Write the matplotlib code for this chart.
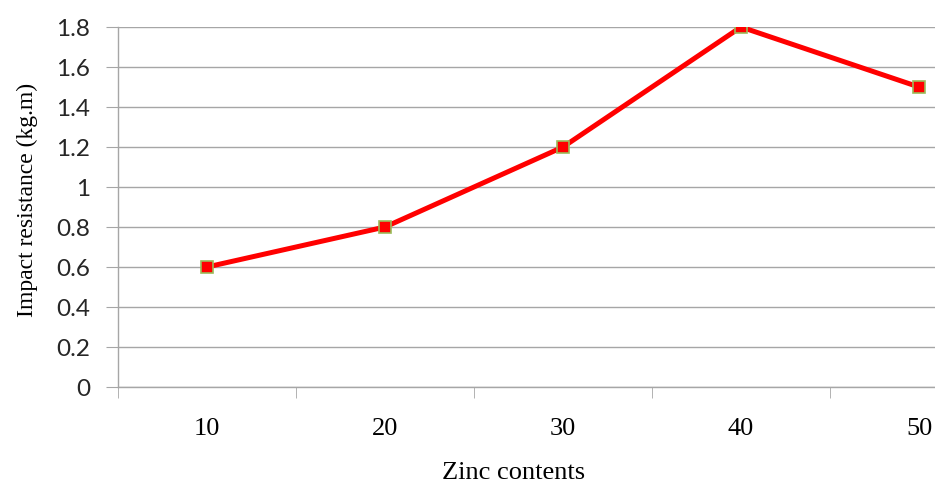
import numpy as np
import matplotlib.pyplot as plt

zinc = ["10", "20", "30", "40", "50"]
impact = [0.6, 0.8, 1.2, 1.8, 1.5]
yticks = [0, 0.2, 0.4, 0.6, 0.8, 1, 1.2, 1.4, 1.6, 1.8]

fig = plt.figure(figsize=(9.35, 4.86), dpi=100)
# plot area runs past the right edge of the figure
ax = fig.add_axes([118 / 935, 1 - 387 / 486, 890 / 935, 360 / 486])

x = np.arange(len(zinc))
ax.plot(x, impact, color="#ff0000", lw=3.6, marker="s", ms=8,
        mfc="#ff0000", mec="#9bbb59", mew=1.2, zorder=3)

ax.set_xlim(-0.5, len(zinc) - 0.5)
ax.set_ylim(0, 1.8)

grid_c = "#a6a6a6"
ax.set_yticks(yticks)
ax.set_yticklabels(["0", "0.2", "0.4", "0.6", "0.8", "1", "1.2", "1.4", "1.6", "1.8"],
                   family="Lato", fontsize=17.5, color="#262626")
ax.yaxis.grid(True, color=grid_c, lw=1)
ax.set_axisbelow(True)

ax.set_xticks(x)
ax.set_xticklabels(zinc, family="Liberation Serif", fontsize=19)
ax.set_xticks(np.arange(-0.5, len(zinc)), minor=True)
ax.tick_params(axis="x", which="major", length=0, pad=22)
ax.tick_params(axis="x", which="minor", length=8, color=grid_c, direction="out")
ax.tick_params(axis="y", length=9, color=grid_c, direction="out", pad=11)

for s in ["top", "right"]:
    ax.spines[s].set_visible(False)
for s in ["left", "bottom"]:
    ax.spines[s].set_color(grid_c)
    ax.spines[s].set_linewidth(1)

ax.set_ylabel("Impact resistance (kg.m)", family="Liberation Serif", fontsize=17)
ax.yaxis.set_label_coords(-80 / 890, 0.52)
fig.text(514 / 935, 1 - 473 / 486, "Zinc contents", family="Liberation Serif",
         fontsize=19, ha="center", va="center")

fig.savefig("out.png", dpi=100)
